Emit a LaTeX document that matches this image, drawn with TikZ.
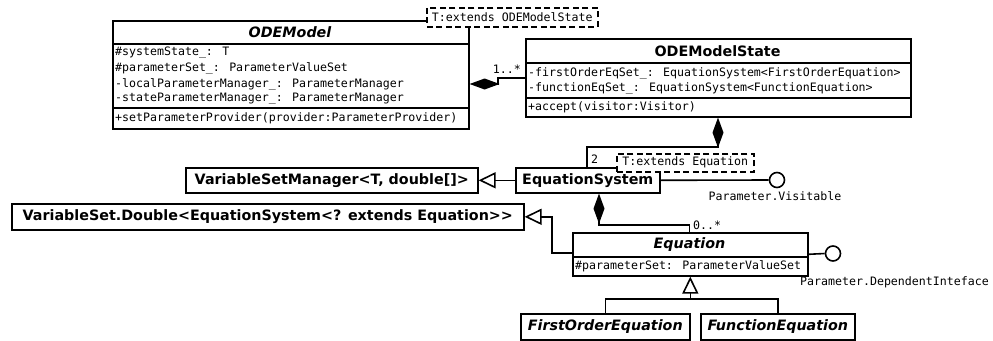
\documentclass[tikz,border=0pt]{standalone}
\usepackage{fontspec}
\setmainfont{DejaVu Sans}
\newfontfamily\monof{DejaVu Sans Mono}
\usetikzlibrary{arrows.meta}
\tikzset{
  box/.style={draw, line width=1.6pt, fill=white, inner sep=0pt, anchor=north west},
  ttl/.style={font=\fontsize{14.3}{16}\selectfont\bfseries},
  ttli/.style={font=\fontsize{14.3}{16}\selectfont\bfseries\itshape},
  attr/.style={font=\monof\fontsize{11.6}{13}\selectfont, anchor=west, inner sep=0pt},
  lbl/.style={font=\monof\fontsize{11.6}{13}\selectfont, inner sep=0pt},
  conn/.style={line width=1.6pt},
  comp/.style={conn, -{Diamond[length=30pt,width=11pt]}},
  gen/.style={conn, -{Triangle[open, length=17pt, width=16pt, fill=white]}},
  tmpl/.style={draw, dashed, dash pattern=on 6pt off 3.5pt, line width=1.6pt, fill=white, inner sep=0pt, anchor=north west,
    font=\monof\fontsize{11.6}{13}\selectfont},
  iface/.style={circle, draw, line width=1.6pt, fill=white, minimum size=15pt, inner sep=0pt},
}
\begin{document}
\begin{tikzpicture}[x=1pt,y=-1pt]
\useasboundingbox (0,0) rectangle (993,340);
% ODEModel
\node[box, minimum width=356pt, minimum height=108pt] (om) at (112,20) {};
\draw[conn] (om.west |- 0,44) -- (om.east |- 0,44);
\draw[conn] (om.west |- 0,108) -- (om.east |- 0,108);
\node[ttli] (omt) at (290,32) {ODEModel};
\node[attr] (oma1) at (115,53) {\#systemState\_: T};
\node[attr] (oma2) at (115,68.5) {\#parameterSet\_: ParameterValueSet};
\node[attr] (oma3) at (115,84) {-localParameterManager\_: ParameterManager};
\node[attr] (oma4) at (115,99) {-stateParameterManager\_: ParameterManager};
\node[attr] (omm1) at (115,118) {+setParameterProvider(provider:ParameterProvider)};
\node[tmpl, minimum width=171pt, minimum height=19pt] (omtp) at (426,7) {T:extends ODEModelState};
% ODEModelState
\node[box, minimum width=385pt, minimum height=78pt] (ms) at (525,38) {};
\draw[conn] (ms.west |- 0,63) -- (ms.east |- 0,63);
\draw[conn] (ms.west |- 0,98) -- (ms.east |- 0,98);
\node[ttl] (mst) at (717.5,51) {ODEModelState};
\node[attr] (msa1) at (528,73) {-firstOrderEqSet\_: EquationSystem<FirstOrderEquation>};
\node[attr] (msa2) at (528,88) {-functionEqSet\_: EquationSystem<FunctionEquation>};
\node[attr] (msm1) at (528,107) {+accept(visitor:Visitor)};
% VariableSetManager
\node[box, ttl, minimum width=292pt, minimum height=25pt] (vsm) at (185,167) {VariableSetManager<T, double[]>};
% VariableSet.Double
\node[box, ttl, minimum width=512pt, minimum height=26pt] (vsd) at (11,203) {VariableSet.Double<EquationSystem<? extends Equation>\kern0pt>};
% EquationSystem
\node[box, ttl, minimum width=144pt, minimum height=25pt] (es) at (515,167) {EquationSystem};
\node[tmpl, minimum width=137pt, minimum height=18pt] (estp) at (616,153) {T:extends Equation};
% Equation
\node[box, minimum width=235pt, minimum height=43pt] (eq) at (572,232) {};
\draw[conn] (eq.west |- 0,257) -- (eq.east |- 0,257);
\node[ttli] (eqt) at (689.5,245) {Equation};
\node[attr] (eqa1) at (575,266) {\#parameterSet: ParameterValueSet};
% subclasses
\node[box, ttli, minimum width=169pt, minimum height=26pt] (foe) at (520,313) {FirstOrderEquation};
\node[box, ttli, minimum width=154pt, minimum height=26pt] (fe) at (700,313) {FunctionEquation};
% interfaces
\node[iface] (vis) at (777,180) {};
\node[lbl] (visl) at (775,196) {Parameter.Visitable};
\node[iface] (dep) at (833,253.5) {};
\node[lbl, anchor=west] (depl) at (800,282) {Parameter.DependentInteface};
\draw[conn] (es.east) -- (vis.west);
\draw[conn] (eq.east) -- (dep.west);
% compositions
\draw[comp] (ms.west) -- ++(-27,0) |- (om.east |- 0,84);
\node[lbl, anchor=south east] (l1) at (521,74) {1..*};
\draw[comp] (es.north -| 587,0) |- (718,147) -- (ms.south -| 718,0);
\node[lbl, anchor=west] (l2) at (591,159) {2};
\draw[comp] (eq.north -| 689.5,0) |- (599,225) -- (es.south -| 599,0);
\node[lbl, anchor=south west] (l3) at (693,230) {0..*};
% generalizations
\draw[gen] (es.west) -- (vsm.east);
\draw[gen] (eq.west |- 0,253) -- (552,253) |- (vsd.east);
\draw[conn] (foe.north) |- (fe.north |- 0,299) -- (fe.north);
\draw[gen] (eq.south |- 0,299) -- (eq.south);
\end{tikzpicture}
\end{document}
